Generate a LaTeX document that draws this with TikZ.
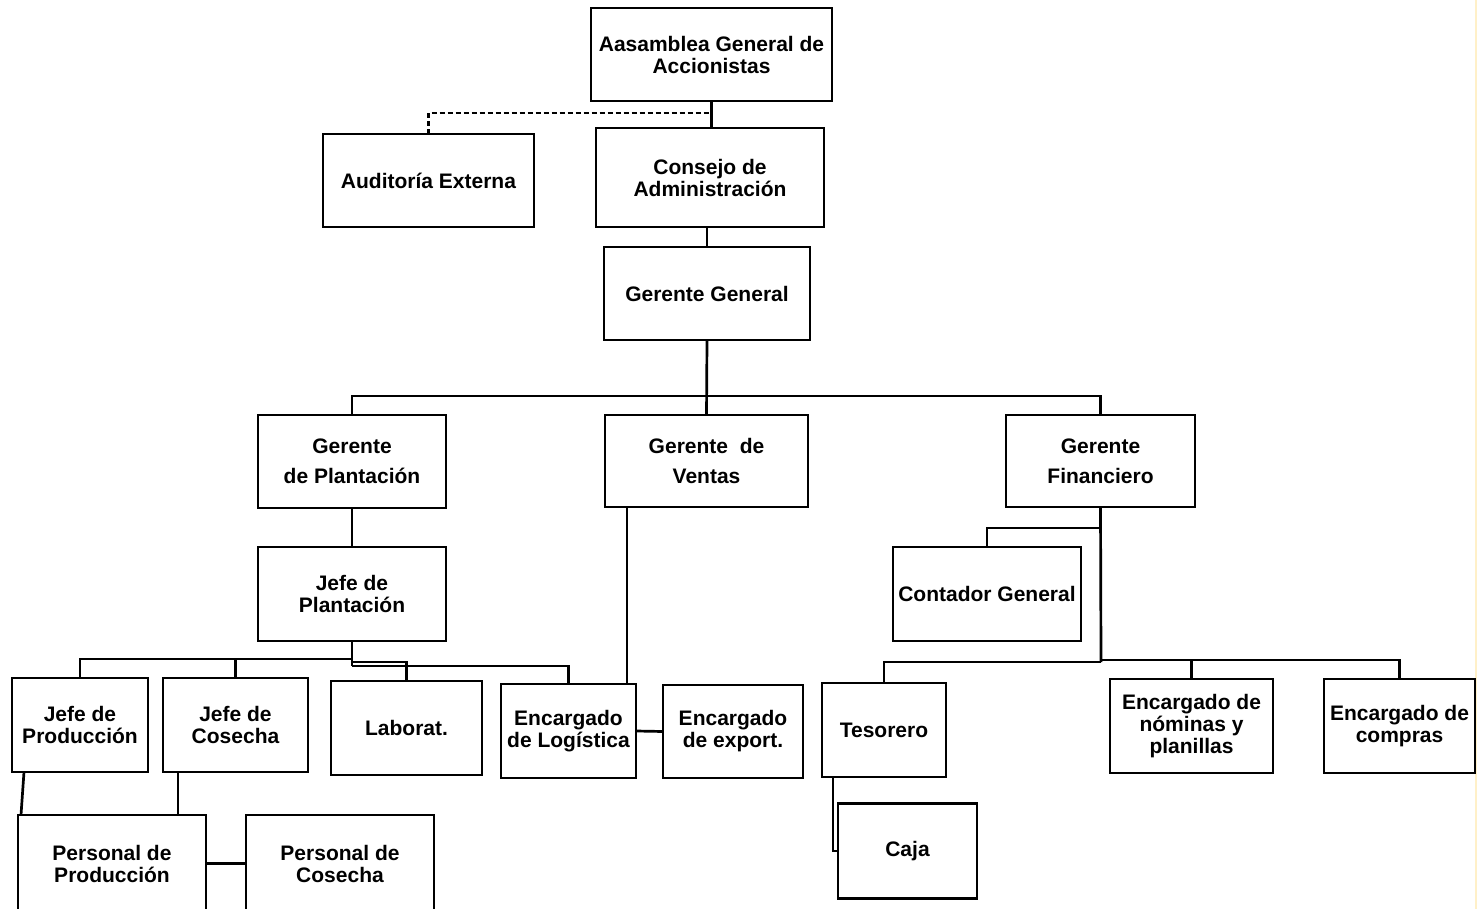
\documentclass[tikz,border=0pt]{standalone}
\usepackage{fontspec}
\setmainfont{Liberation Sans}
\definecolor{edgeyellow}{HTML}{FFF0C8}

\begin{document}
\begin{tikzpicture}[x=1pt,y=-1pt,
    box/.style={draw,line width=2.9pt,inner sep=0pt,outer sep=0pt,align=center,
      font=\fontsize{21}{22}\selectfont\bfseries},
    gbox/.style={box,font=\fontsize{21}{30}\selectfont\bfseries},
    link/.style={line width=2.7pt}]
      \useasboundingbox (0,0) rectangle (1477,909);
      \draw[edgeyellow,line width=2.5pt] (1476,0) -- (1476,909);
      \node[box,minimum width=241pt,minimum height=93pt] (asamblea) at (711.5,54.5) {Aasamblea General de\\Accionistas};
      \node[box,minimum width=211pt,minimum height=93pt] (auditoria) at (428.5,180.5) {Auditoría Externa};
      \node[box,minimum width=228pt,minimum height=99pt] (consejo) at (710,177.5) {Consejo de\\Administración};
      \node[box,minimum width=206pt,minimum height=93pt] (gerente) at (707,293.5) {Gerente General};
      \node[gbox,minimum width=188pt,minimum height=93pt] (gplant) at (352,461.5) {Gerente\\de Plantación};
      \node[gbox,minimum width=203pt,minimum height=92pt] (gventas) at (706.5,461) {Gerente~ de\\Ventas};
      \node[gbox,minimum width=189pt,minimum height=92pt] (gfin) at (1100.5,461) {Gerente\\Financiero};
      \node[box,minimum width=188pt,minimum height=94pt] (jplant) at (352,594) {Jefe de\\Plantación};
      \node[box,minimum width=188pt,minimum height=94pt] (contador) at (987,594) {Contador General};
      \node[box,minimum width=136pt,minimum height=94pt] (jprod) at (80,725) {Jefe de\\Producción};
      \node[box,minimum width=145pt,minimum height=94pt] (jcos) at (235.5,725) {Jefe de\\Cosecha};
      \node[box,minimum width=151pt,minimum height=94pt] (labor) at (406.5,728) {Laborat.};
      \node[box,minimum width=135pt,minimum height=94pt] (logist) at (568.5,731) {Encargado\\de Logística};
      \node[box,minimum width=140pt,minimum height=93pt] (export) at (733,731.5) {Encargado\\de export.};
      \node[box,minimum width=124pt,minimum height=94pt] (tesorero) at (884,730) {Tesorero};
      \node[box,minimum width=163pt,minimum height=94pt] (nominas) at (1191.5,726) {Encargado de\\nóminas y\\planillas};
      \node[box,minimum width=151pt,minimum height=94pt] (compras) at (1399.5,726) {Encargado de\\compras};
      \node[box,minimum width=188pt,minimum height=97pt] (pprod) at (112,863.5) {Personal de\\Producción};
      \node[box,minimum width=188pt,minimum height=97pt] (pcos) at (340,863.5) {Personal de\\Cosecha};
      \node[box,minimum width=139pt,minimum height=95pt] (caja) at (907.5,851) {Caja};
      \coordinate (dashA) at (711,113);
      \coordinate (busA) at (707,396);
      \coordinate (jpB) at (352,659);
      \coordinate (jpC) at (352,662);
      \coordinate (jpD) at (352,666);
      \coordinate (vtA) at (627,507);
      \coordinate (fA) at (1101,528);
      \coordinate (fB) at (1101,660);
      \coordinate (fC) at (1101,662);
      \draw[link] (asamblea.south) -- (asamblea.south |- consejo.north);
      \draw[link,dash pattern=on 5pt off 3pt] (auditoria.north) |- (dashA);
      \draw[link] (gerente.north) -- (gerente.north |- consejo.south);
      \draw[link] (gerente.south) -- (gventas.north);
      \draw[link] (gplant.north) |- (busA) -| (gfin.north);
      \draw[link] (gplant.south) -- (jplant.north);
      \draw[link] (jplant.south) -- (jpD);
      \draw[link] (jprod.north) |- (jpB);
      \draw[link] (jcos.north) |- (jpB);
      \draw[link] (jpC) -| (labor.north);
      \draw[link] (jpD) -| (logist.north);
      \draw[link] (vtA) -- (vtA |- logist.north);
      \draw[link] (logist.east) -- (export.west);
      \draw[link] ([xshift=12pt]jprod.south west) -- ([xshift=3pt]pprod.north west);
      \draw[link] ([xshift=15pt]jcos.south west) -- ([xshift=15pt]jcos.south west |- pprod.north);
      \draw[link] (pprod.east |- pcos.west) -- (pcos.west);
      \draw[link] (gfin.south) -- (fC);
      \draw[link] (fA) -| (contador.north);
      \draw[link] (fB) -| (nominas.north);
      \draw[link] (fB) -| (compras.north);
      \draw[link] (fC) -| (tesorero.north);
      \draw[link] ([xshift=11pt]tesorero.south west) |- (caja.west);
\end{tikzpicture}
\end{document}
